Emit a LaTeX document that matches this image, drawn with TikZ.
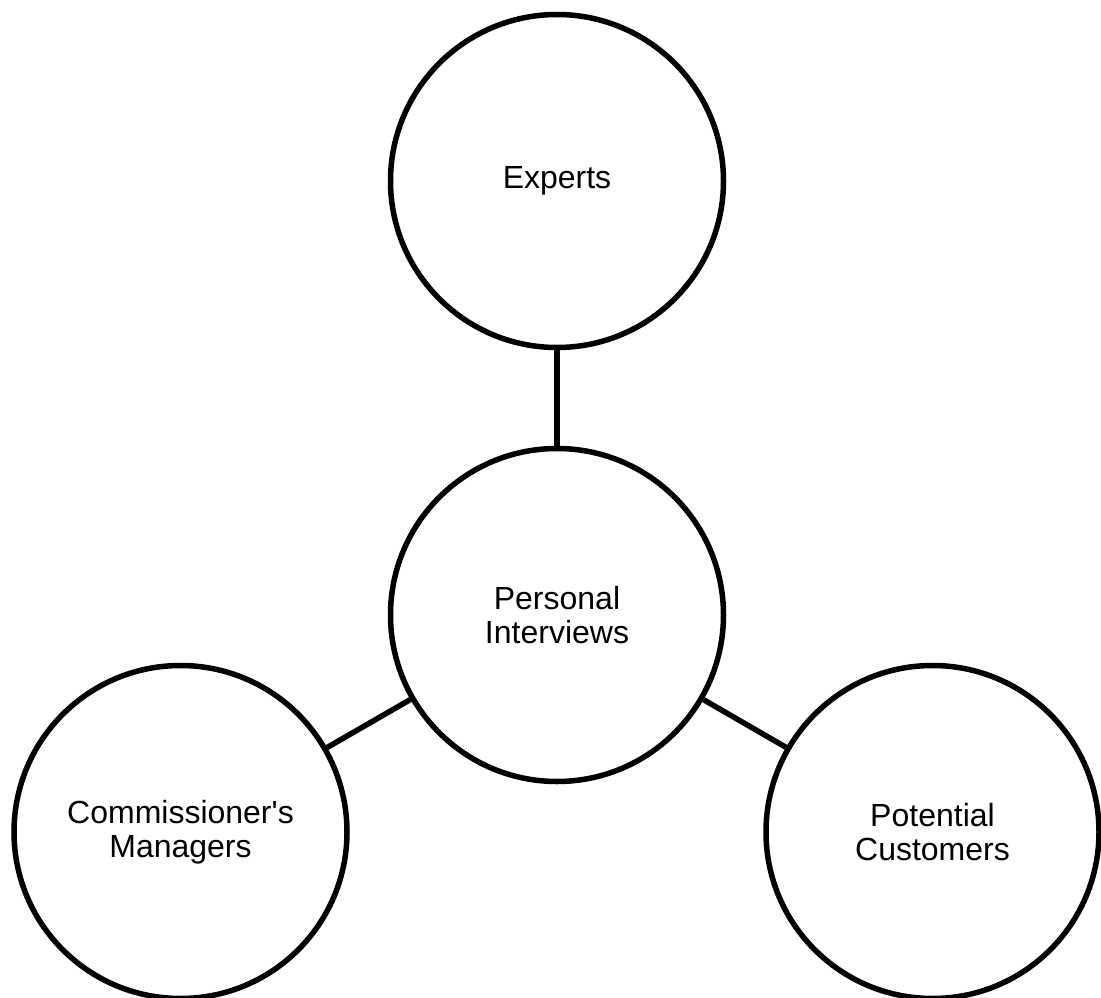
\documentclass[tikz,border=0pt]{standalone}
\usepackage{fontspec}
% keep the straight apostrophe as typed
\setmainfont{Liberation Sans}[Ligatures=TeXOff]
\begin{document}
\begin{tikzpicture}[x=1pt,y=1pt,
  bubble/.style={circle,draw=black,line width=5.5pt,minimum size=333pt,inner sep=0pt,
    align=center,font=\fontsize{32}{34}\selectfont},
  link/.style={draw=black,line width=5.5pt}]
  \useasboundingbox (0,0) rectangle (1101,-998);
  \node[bubble] (experts) at (557,-181) {Experts};
  \node[bubble] (center)  at (557,-615) {Personal\\Interviews};
  \node[bubble] (comm)    at (180.5,-832) {Commissioner's\\Managers};
  \node[bubble] (pot)     at (932.5,-832) {Potential\\Customers};
  \draw[link] (experts) -- (center);
  \draw[link] (center) -- (comm);
  \draw[link] (center) -- (pot);
\end{tikzpicture}
\end{document}
